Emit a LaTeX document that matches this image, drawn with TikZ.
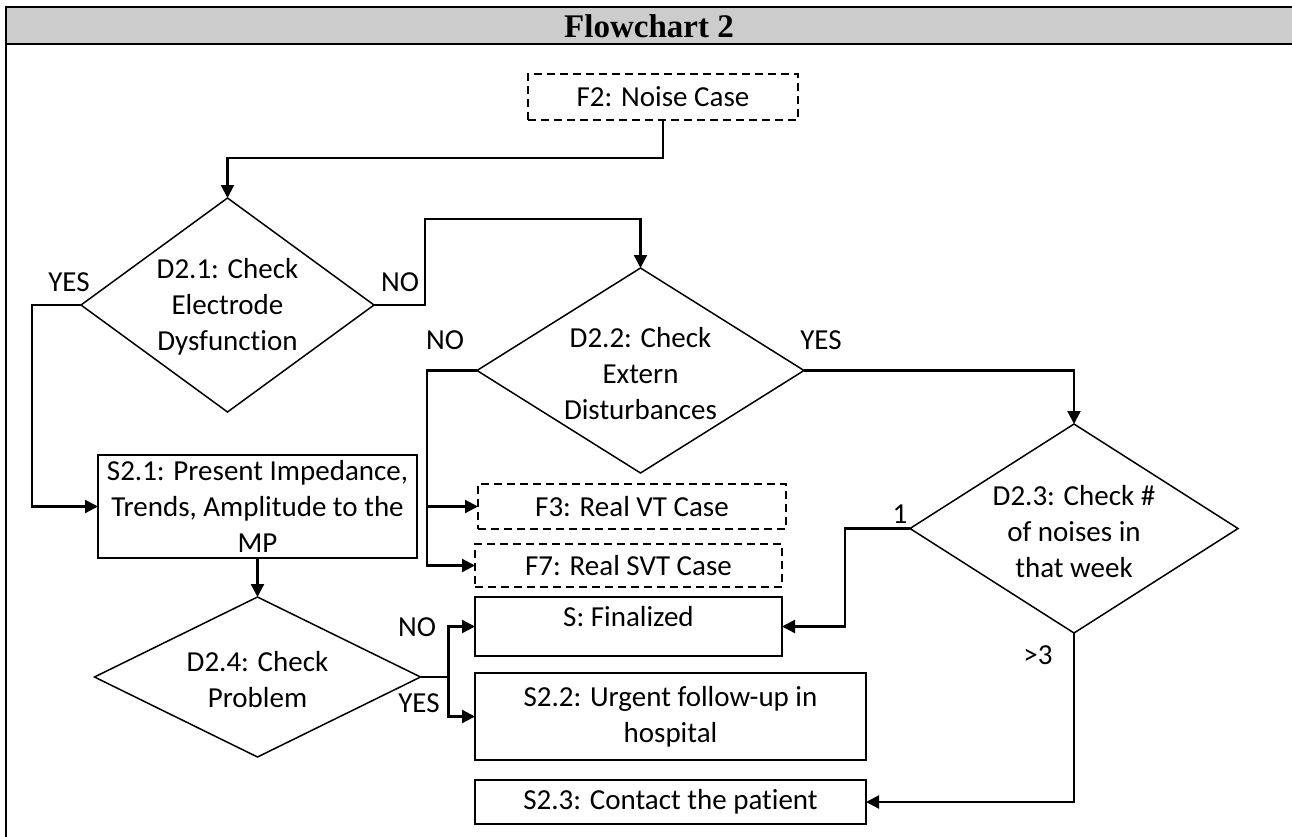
\documentclass[tikz,border=0pt]{standalone}
\usepackage{fontspec}
\setmainfont[Ligatures=NoCommon]{Carlito}
\newfontfamily\titlefont{Liberation Serif}
\usetikzlibrary{shapes.geometric,arrows.meta}

\tikzset{
  txt/.style={font=\fontsize{29}{36}\selectfont, align=center, inner sep=0pt, outer sep=0pt},
  stepbox/.style={txt, draw, rectangle, line width=1.6pt},
  linkbox/.style={stepbox, dash pattern=on 8pt off 5pt},
  dia/.style={draw, diamond, line width=1.5pt, inner sep=0pt, outer sep=0pt},
  arr/.style={line width=2.3pt, -{Triangle[length=13pt,width=13pt]}},
  lbl/.style={txt}
}

\begin{document}
\begin{tikzpicture}[x=1pt, y=-1pt]
\useasboundingbox (0,0) rectangle (1292,836);

% table frame with grey title row
\fill[black!20] (6,7) rectangle (1300,44);
\draw[line width=2.5pt] (1300,7) -- (6,7) -- (6,840);
\draw[line width=2.5pt] (6,44) -- (1300,44);
\node[inner sep=0pt] (title) at (649,26) {\titlefont\bfseries\fontsize{33}{36}\selectfont Flowchart 2};

% process and link boxes
\node[linkbox, minimum width=270pt, minimum height=46pt] (f2) at (663,97) {F2: Noise Case};
\node[stepbox, minimum width=319pt, minimum height=103pt] (s21) at (257.5,506.5) {S2.1: Present Impedance,\\Trends, Amplitude to the\\MP};
\node[linkbox, minimum width=308pt, minimum height=45pt] (f3) at (632,506.5) {F3: Real VT Case};
\node[linkbox, minimum width=307pt, minimum height=43pt] (f7) at (628.5,565.5) {F7: Real SVT Case};
\node[stepbox, minimum width=307pt, minimum height=59pt] (sfin) at (628.5,626.5) {};
\node[txt] (sfint) at (628.5,617) {S: Finalized};
\node[stepbox, minimum width=391pt, minimum height=87pt] (s22) at (670.5,716.5) {S2.2: Urgent follow-up in\\hospital};
\node[stepbox, minimum width=391pt, minimum height=44pt] (s23) at (670.5,802) {S2.3: Contact the patient};

% decisions
\node[dia, minimum width=293pt, minimum height=214pt] (d21) at (227.5,305) {};
\node[txt] (d21t) at (227.5,307) {D2.1: Check\\Electrode\\Dysfunction};
\node[dia, minimum width=327pt, minimum height=205pt] (d22) at (640.5,370.5) {};
\node[txt] (d22t) at (640.5,374) {D2.2: Check\\Extern\\Disturbances};
\node[dia, minimum width=328pt, minimum height=209pt] (d23) at (1074,528.5) {};
\node[txt] (d23t) at (1074,532) {D2.3: Check \#\\of noises in\\that week};
\node[dia, minimum width=326pt, minimum height=160pt] (d24) at (257.5,677) {};
\node[txt] (d24t) at (257.5,680) {D2.4: Check\\Problem};

% connectors
\draw[arr] (f2.south) -- ++(0,38) -| (d21.north);
\draw[arr] (d21.west) -- ++(-49,0) |- (s21.west);
\draw[arr] (d21.east) -- ++(51,0) -- ++(0,-86) -| (d22.north);
\draw[arr] (d22.west) -- ++(-50,0) |- (f3.west);
\draw[arr] (d22.west) -- ++(-50,0) |- (f7.west);
\draw[arr] (d22.east) -| (d23.north);
\draw[arr] (d23.west) -- ++(-65,0) |- (sfin.east);
\draw[arr] (d23.south) |- (s23.east);
\draw[arr] (s21.south) -- (d24.north);
\draw[arr] (d24.east) -- ++(28,0) |- (sfin.west);
\draw[arr] (d24.east) -- ++(28,0) |- (s22.west);

% branch labels
\node[lbl] (l1) at (69,282) {YES};
\node[lbl] (l2) at (400,282) {NO};
\node[lbl] (l3) at (445,340) {NO};
\node[lbl] (l4) at (821,340) {YES};
\node[lbl] (l5) at (900,514) {1};
\node[lbl] (l6) at (1038,655) {>3};
\node[lbl] (l7) at (417,627) {NO};
\node[lbl] (l8) at (419,703) {YES};
\end{tikzpicture}
\end{document}
